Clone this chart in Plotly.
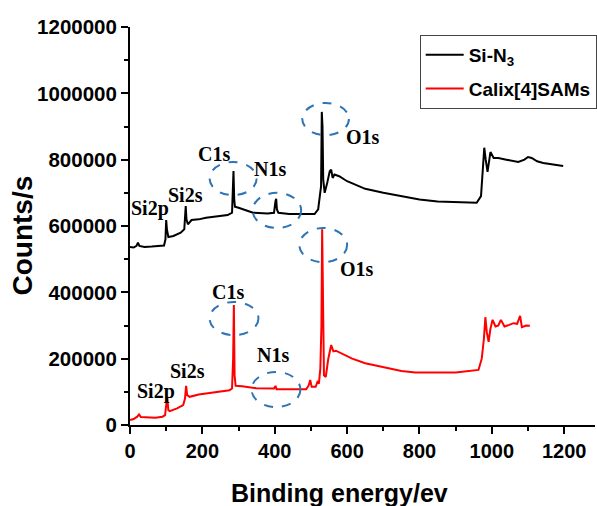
import plotly.graph_objects as go

# Si-N3 survey spectrum (black)
sin3_x = [0, 10, 18, 22, 26, 40, 60, 80, 94, 98, 100, 102, 106, 120, 140, 150, 152, 154, 156, 160,
          170, 190, 210, 240, 270, 282, 284, 286, 288, 290, 300, 320, 340, 380, 398, 402, 404, 406,
          410, 440, 480, 510, 520, 524, 528, 530, 532, 534, 538, 545, 552, 556, 560, 565, 578, 600,
          650, 700, 750, 800, 850, 900, 958, 970, 976, 979, 983, 988, 993, 996, 1005, 1018, 1040,
          1060, 1073, 1090, 1100, 1110, 1125, 1142, 1170, 1197]
sin3_y = [537000, 535000, 540000, 550000, 540000, 537000, 538000, 540000, 541000, 560000, 618000,
          590000, 567000, 570000, 580000, 590000, 640000, 660000, 620000, 605000, 618000, 620000,
          625000, 628000, 633000, 640000, 700000, 766000, 680000, 658000, 655000, 648000, 640000,
          638000, 640000, 675000, 682000, 650000, 640000, 636000, 635000, 636000, 650000, 690000,
          720000, 944000, 900000, 740000, 700000, 730000, 765000, 770000, 745000, 755000, 750000,
          735000, 712000, 700000, 690000, 680000, 674000, 672000, 670000, 690000, 780000, 836000,
          800000, 763000, 800000, 823000, 805000, 805000, 800000, 795000, 793000, 800000, 808000,
          805000, 795000, 790000, 785000, 781000]

# Calix[4]SAMs survey spectrum (red)
calix_x = [0, 10, 20, 25, 30, 50, 70, 90, 97, 100, 103, 106, 110, 130, 147, 152, 155, 158, 165, 190,
           220, 250, 275, 282, 285, 287, 289, 292, 300, 310, 349, 380, 398, 402, 405, 450, 487, 494,
           498, 502, 513, 518, 522, 526, 529, 531, 533, 536, 541, 548, 556, 562, 569, 590, 614, 650,
           697, 750, 789, 850, 900, 963, 972, 978, 982, 986, 991, 996, 1002, 1010, 1018, 1025, 1035,
           1048, 1060, 1070, 1078, 1083, 1095, 1105]
calix_y = [15000, 18000, 25000, 32000, 24000, 22000, 22000, 25000, 30000, 60000, 81000, 45000, 42000,
           50000, 60000, 80000, 118000, 90000, 85000, 92000, 96000, 102000, 105000, 110000, 200000,
           362000, 150000, 118000, 118000, 117000, 111000, 110000, 110000, 118000, 108000, 108000,
           108000, 120000, 136000, 115000, 115000, 130000, 125000, 170000, 300000, 590000, 400000,
           150000, 145000, 200000, 241000, 222000, 224000, 212000, 200000, 186000, 176000, 163000,
           158000, 157000, 158000, 166000, 200000, 260000, 325000, 280000, 251000, 290000, 317000,
           297000, 300000, 317000, 297000, 302000, 307000, 305000, 329000, 295000, 300000, 299000]

# peak labels
label_text = ["Si2p", "Si2s", "C1s", "N1s", "O1s", "Si2p", "Si2s", "C1s", "N1s", "O1s"]
label_x = [55, 154, 231, 388, 644, 72, 160, 270, 394, 627]
label_y = [654000, 693000, 817000, 772000, 868000, 102000, 163000, 401000, 211000, 470000]

# dashed ellipses around peaks: x0, x1, y0, y1
ell_x0 = [220, 339, 476, 468, 220, 336]
ell_x1 = [350, 473, 605, 600, 355, 471]
ell_y0 = [693000, 594000, 874000, 491000, 271000, 54000]
ell_y1 = [793000, 700000, 971000, 594000, 371000, 160000]

fig = go.Figure()
fig.add_trace(go.Scatter(x=sin3_x, y=sin3_y, mode="lines", name="Si-N<sub>3</sub>",
                         line=dict(color="black", width=2), legendgroup="a"))
fig.add_trace(go.Scatter(x=calix_x, y=calix_y, mode="lines", name="Calix[4]SAMs",
                         line=dict(color="#ff0000", width=2), legendgroup="b"))

for x0, x1, y0, y1 in zip(ell_x0, ell_x1, ell_y0, ell_y1):
    fig.add_shape(type="circle", xref="x", yref="y", x0=x0, x1=x1, y0=y0, y1=y1,
                  line=dict(color="#2e75b6", width=2, dash="dash"))

for t, x, y in zip(label_text, label_x, label_y):
    fig.add_annotation(x=x, y=y, text="<b>" + t + "</b>", showarrow=False,
                       font=dict(family="Liberation Serif", size=20, color="black"))

# axis titles
fig.add_annotation(xref="paper", yref="paper", x=0.45, y=-0.171, xanchor="center", yanchor="middle",
                   text="<b>Binding energy/ev</b>",
                   showarrow=False, font=dict(family="Arial", size=25, color="black"))
fig.add_annotation(xref="paper", yref="paper", x=-0.231, y=0.475, xanchor="center", yanchor="middle",
                   text="<b>Counts/s</b>",
                   textangle=-90, showarrow=False, font=dict(family="Arial", size=28, color="black"))

axis_common = dict(showline=True, linecolor="black", linewidth=2, ticks="outside",
                   ticklen=7, tickwidth=2, tickcolor="black", showgrid=False, zeroline=False)

fig.update_xaxes(range=[0, 1285], dtick=200, tick0=0,
                 minor=dict(ticks="outside", ticklen=4, dtick=100, tickcolor="black", tickwidth=2),
                 tickfont=dict(family="Arial", size=20, color="black", weight="bold"),
                 **axis_common)
fig.update_yaxes(range=[0, 1200000], dtick=200000, tick0=0,
                 minor=dict(ticks="outside", ticklen=4, dtick=100000, tickcolor="black", tickwidth=2),
                 tickfont=dict(family="Arial", size=20.5, color="black", weight="bold"),
                 tickformat="d",
                 **axis_common)

fig.update_layout(
    width=597, height=506,
    margin=dict(l=130, r=0, t=27, b=81),
    plot_bgcolor="white", paper_bgcolor="white",
    legend=dict(x=0.623, y=0.98, xanchor="left", yanchor="top",
                bordercolor="#444", borderwidth=1, bgcolor="white",
                font=dict(family="Arial", size=19, color="black", weight="bold"),
                tracegroupgap=6, itemwidth=38),
    showlegend=True,
)

fig.write_html("out.html")
